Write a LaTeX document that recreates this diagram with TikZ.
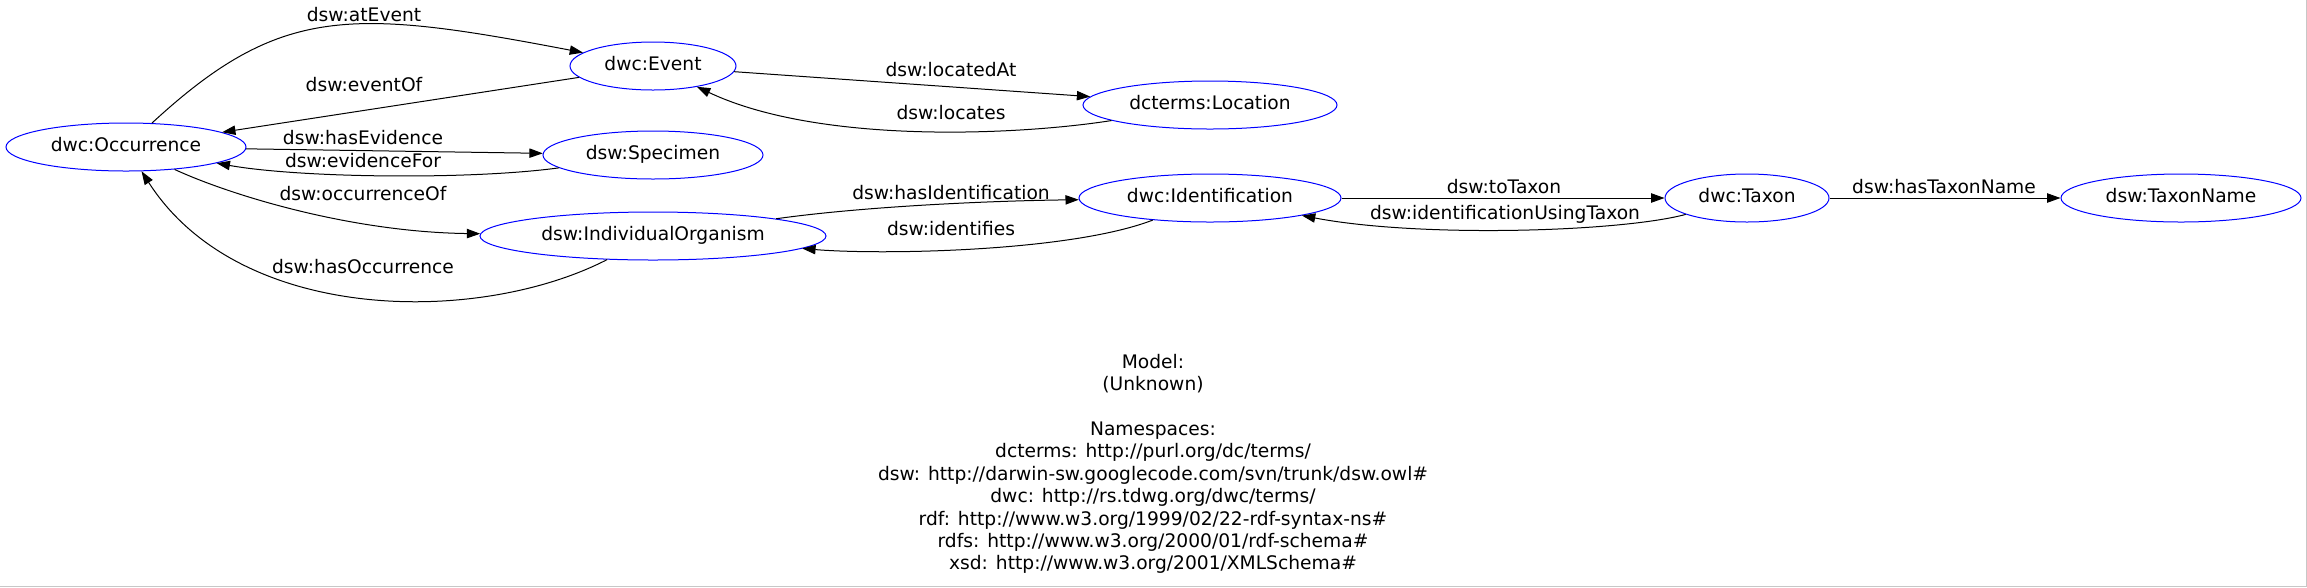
\documentclass[tikz,border=0pt]{standalone}
\usepackage{fontspec}
\setmainfont{DejaVu Sans}
\usetikzlibrary{arrows.meta,shapes.geometric}
\begin{document}
\begin{tikzpicture}[x=0.75pt, y=-0.75pt, every node/.style={font=\fontsize{14}{16.8}\selectfont}, cls/.style={draw=blue, line width=0.75pt, ellipse, inner sep=0pt, minimum height=36pt, text height=10.5pt, text depth=3.5pt}, lbl/.style={anchor=base, inner sep=0pt}, edge/.style={line width=0.75pt, -{Triangle[length=10pt, width=7pt]}}]
\useasboundingbox (0,0) rectangle (2307,587);
\draw[black!22, line width=0.75pt] (2306.5,0) -- (2306.5,586.5) -- (0,586.5);
\node[cls, minimum width=180pt] (occ) at (126,147) {dwc:Occurrence};
\node[cls, minimum width=124.5pt] (ev) at (653,66) {dwc:Event};
\node[cls, minimum width=165pt] (spec) at (653,155) {dsw:Specimen};
\node[cls, minimum width=259.5pt] (org) at (653,236) {dsw:IndividualOrganism};
\node[cls, minimum width=190.5pt] (loc) at (1210,105) {dcterms:Location};
\node[cls, minimum width=196.5pt] (ident) at (1210,198) {dwc:Identification};
\node[cls, minimum width=123pt] (tax) at (1747,198) {dwc:Taxon};
\node[cls, minimum width=180pt] (tname) at (2181,198) {dsw:TaxonName};
\draw[edge] (occ) .. controls (280,5) and (350,8) .. (ev);
\draw[edge] (ev) -- (occ);
\draw[edge] (occ) -- (spec);
\draw[edge] (spec) .. controls (470,180) and (300,178) .. (occ);
\draw[edge] (occ) .. controls (230,195) and (350,232) .. (org);
\draw[edge] (org) .. controls (480,325) and (240,325) .. (occ);
\draw[edge] (ev) -- (loc);
\draw[edge] (loc) .. controls (1020,135) and (820,145) .. (ev);
\draw[edge] (org) .. controls (860,207) and (980,201) .. (ident);
\draw[edge] (ident) .. controls (1070,252) and (880,255) .. (org);
\draw[edge] (ident) -- (tax);
\draw[edge] (tax) .. controls (1620,232) and (1420,238) .. (ident);
\draw[edge] (tax) -- (tname);
\node[lbl] (l-atevent) at (364,21) {dsw:atEvent};
\node[lbl] (l-eventof) at (364,91) {dsw:eventOf};
\node[lbl] (l-hasevid) at (363,144) {dsw:hasEvidence};
\node[lbl] (l-evidfor) at (363,167) {dsw:evidenceFor};
\node[lbl] (l-occof) at (363,200) {dsw:occurrenceOf};
\node[lbl] (l-hasocc) at (363,273) {dsw:hasOccurrence};
\node[lbl] (l-locat) at (951,76) {dsw:locatedAt};
\node[lbl] (l-locates) at (951,119) {dsw:locates};
\node[lbl] (l-hasident) at (951,199) {dsw:hasIdentification};
\node[lbl] (l-identifies) at (951,235) {dsw:identifies};
\node[lbl] (l-totaxon) at (1504,193) {dsw:toTaxon};
\node[lbl] (l-identusing) at (1505,219) {dsw:identificationUsingTaxon};
\node[lbl] (l-hastname) at (1944,193) {dsw:hasTaxonName};
\node[align=center, inner sep=0pt] (note) at (1153,464) {Model:\\(Unknown)\\[16.8pt]Namespaces:\\dcterms: http://purl.org/dc/terms/\\dsw: http://darwin-sw.googlecode.com/svn/trunk/dsw.owl\#\\dwc: http://rs.tdwg.org/dwc/terms/\\rdf: http://www.w3.org/1999/02/22-rdf-syntax-ns\#\\rdfs: http://www.w3.org/2000/01/rdf-schema\#\\xsd: http://www.w3.org/2001/XMLSchema\#};
\end{tikzpicture}
\end{document}
